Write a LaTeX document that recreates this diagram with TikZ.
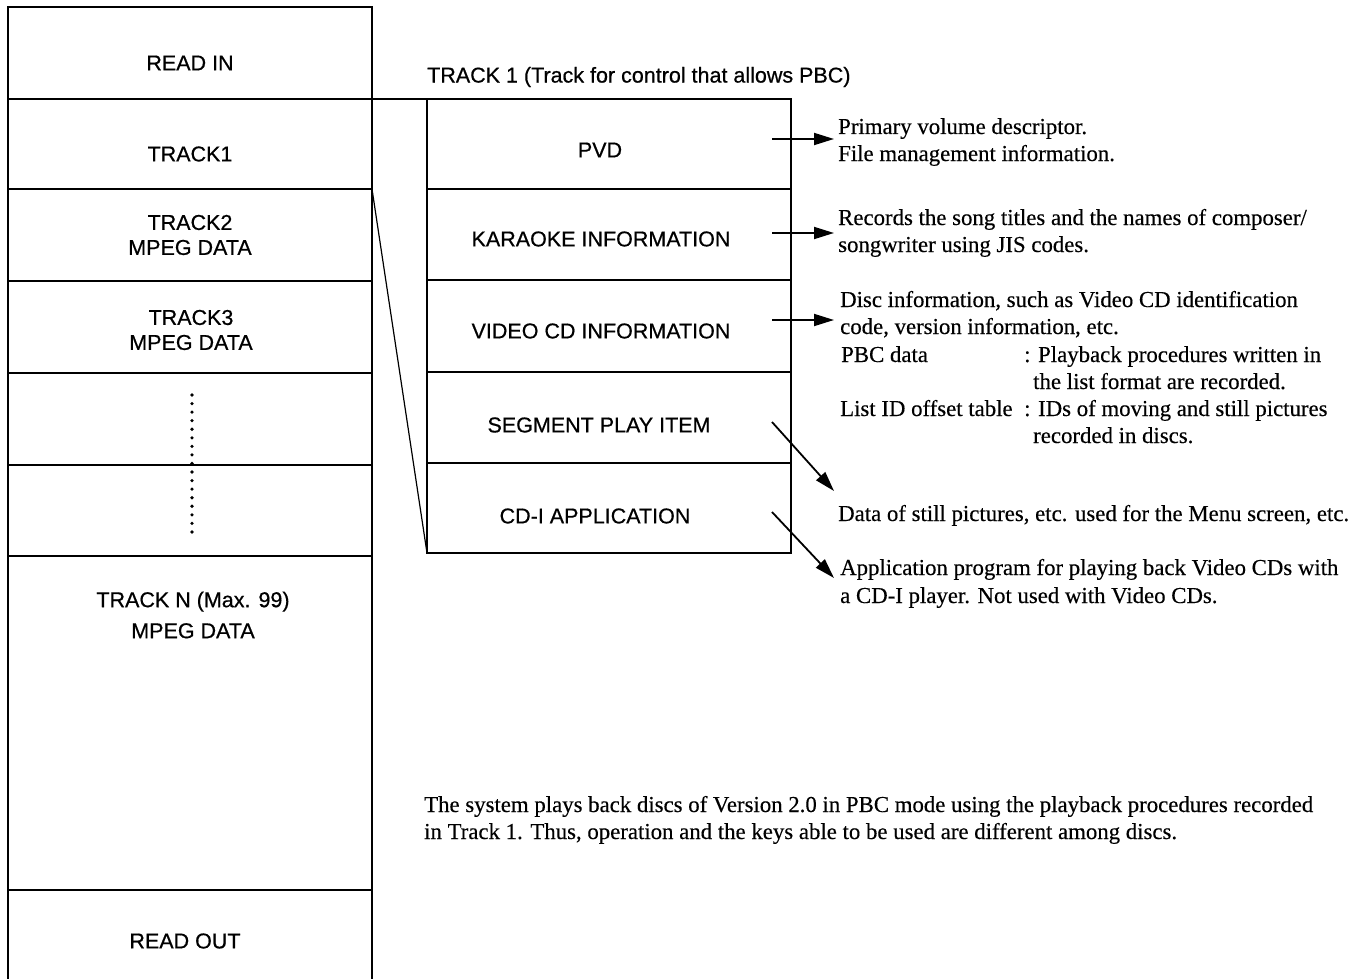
\documentclass[tikz,border=0pt]{standalone}
\usepackage{fontspec}
\setmainfont{Liberation Serif}[FakeBold=0.35]
\setsansfont{Liberation Sans}[FakeBold=0.6]
\usetikzlibrary{arrows.meta}
\begin{document}
\begin{tikzpicture}[x=1pt,y=-1pt,
  cell/.style={draw, line width=1.6pt, inner sep=0pt, outer sep=0pt, minimum width=364pt},
  lab/.style={font=\sffamily\fontsize{21.5}{25}\selectfont, align=center, inner sep=0pt},
  desc/.style={font=\fontsize{22.8}{27}\selectfont, anchor=base west, inner sep=0pt},
  arr/.style={line width=1.8pt, -{Triangle[length=20pt,width=12pt]}},
  link/.style={line width=1.2pt}]
\useasboundingbox (0,0) rectangle (1365,979);
% left column cells
\node[cell, minimum height=92pt] (c0) at (190,53) {};
\node[cell, minimum height=90pt] (c1) at (190,144) {};
\node[cell, minimum height=92pt] (c2) at (190,235) {};
\node[cell, minimum height=92pt] (c3) at (190,327) {};
\node[cell, minimum height=92pt] (c4) at (190,419) {};
\node[cell, minimum height=91pt] (c5) at (190,510.5) {};
\node[cell, minimum height=334pt] (c6) at (190,723) {};
\node[cell, minimum height=93pt] (c7) at (190,936.5) {};
% right column cells
\node[cell, minimum height=90pt] (r1) at (609,144) {};
\node[cell, minimum height=91pt] (r2) at (609,234.5) {};
\node[cell, minimum height=92pt] (r3) at (609,326) {};
\node[cell, minimum height=91pt] (r4) at (609,417.5) {};
\node[cell, minimum height=90pt] (r5) at (609,508) {};
% links between the columns
\draw[line width=1.6pt] (c1.north east) -- (r1.north west);
\draw[link] (c1.south east) -- (r5.south west);
% dotted continuation
\coordinate (d1) at (192,395);
\coordinate (d2) at (192,532);
\draw[line width=3.6pt, line cap=round, dash pattern=on 0pt off 8.56pt] (d1) -- (d2);
% left labels
\node[lab] (lreadin) at (190,63) {READ IN};
\node[lab] (ltrack1) at (190,154) {TRACK1};
\node[lab] (ltrack2) at (190,235) {TRACK2\\MPEG DATA};
\node[lab] (ltrack3) at (191,330) {TRACK3\\MPEG DATA};
\node[lab, font=\sffamily\fontsize{21.5}{31}\selectfont] (ltrackn) at (193,615) {TRACK N (Max. 99)\\MPEG DATA};
\node[lab] (lreadout) at (185,941) {READ OUT};
% right labels
\node[lab, anchor=west] (title) at (427,77) {TRACK 1 (Track for control that allows PBC)};
\node[lab] (lpvd) at (600,150) {PVD};
\node[lab] (lkar) at (601,239) {KARAOKE INFORMATION};
\node[lab] (lvcd) at (601,331) {VIDEO CD INFORMATION};
\node[lab] (lseg) at (599,425) {SEGMENT PLAY ITEM};
\node[lab] (lcdi) at (595,516) {CD-I APPLICATION};
% descriptions
\node[desc] (pvd1) at (838,134) {Primary volume descriptor.};
\node[desc] (pvd2) at (838,161) {File management information.};
\node[desc] (kar1) at (838,225) {Records the song titles and the names of composer/};
\node[desc] (kar2) at (838,252) {songwriter using JIS codes.};
\node[desc] (vcd1) at (840,307) {Disc information, such as Video CD identification};
\node[desc] (vcd2) at (840,334) {code, version information, etc.};
\node[desc] (vcd3) at (841,362) {PBC data};
\node[desc] (vcd3b) at (1024,362) {: Playback procedures written in};
\node[desc] (vcd4) at (1033,389) {the list format are recorded.};
\node[desc] (vcd5) at (840,416) {List ID offset table};
\node[desc] (vcd5b) at (1024,416) {: IDs of moving and still pictures};
\node[desc] (vcd6) at (1033,443) {recorded in discs.};
\node[desc] (seg1) at (838,521) {Data of still pictures, etc. used for the Menu screen, etc.};
\node[desc] (cdi1) at (840,575) {Application program for playing back Video CDs with};
\node[desc] (cdi2) at (840,603) {a CD-I player. Not used with Video CDs.};
\node[desc] (note1) at (424,812) {The system plays back discs of Version 2.0 in PBC mode using the playback procedures recorded};
\node[desc] (note2) at (424,839) {in Track 1. Thus, operation and the keys able to be used are different among discs.};
% arrows
\coordinate (apvd) at (772,139);  \coordinate (tpvd) at (834,139);
\coordinate (akar) at (772,233);  \coordinate (tkar) at (834,233);
\coordinate (avcd) at (772,320);  \coordinate (tvcd) at (834,320);
\coordinate (aseg) at (772,422);  \coordinate (tseg) at (834,491);
\coordinate (acdi) at (772,512);  \coordinate (tcdi) at (834,578);
\draw[arr] (apvd) -- (tpvd);
\draw[arr] (akar) -- (tkar);
\draw[arr] (avcd) -- (tvcd);
\draw[arr] (aseg) -- (tseg);
\draw[arr] (acdi) -- (tcdi);
\end{tikzpicture}
\end{document}
